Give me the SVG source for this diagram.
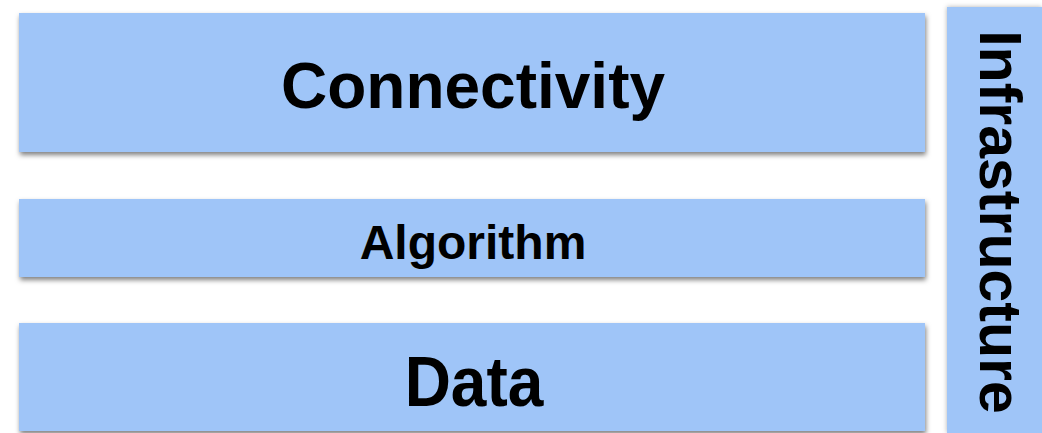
<svg xmlns="http://www.w3.org/2000/svg" width="1042" height="433" viewBox="0 0 1042 433">
  <defs>
    <filter id="shadow" x="-5%" y="-20%" width="110%" height="140%">
      <feDropShadow dx="1" dy="3" stdDeviation="2.5" flood-color="#000" flood-opacity="0.5"/>
    </filter>
    <filter id="shadowV" x="-20%" y="-5%" width="140%" height="110%">
      <feDropShadow dx="0" dy="0" stdDeviation="2.5" flood-color="#000" flood-opacity="0.3"/>
    </filter>
  </defs>
  <style>
    .box { fill: #9fc5f8; }
    .lbl { font-family: "Liberation Sans", Arial, Helvetica, sans-serif; font-weight: bold; fill: #000; text-anchor: middle; }
  </style>
  <rect width="1042" height="433" fill="#ffffff"/>
  <g id="connectors"></g>
  <g id="connectivity">
    <rect class="box" x="19" y="13" width="906" height="139" filter="url(#shadow)"/>
    <text class="lbl" x="473" y="108" font-size="64">Connectivity</text>
  </g>
  <g id="algorithm">
    <rect class="box" x="19" y="199" width="906" height="78" filter="url(#shadow)"/>
    <text class="lbl" x="473" y="259" font-size="48">Algorithm</text>
  </g>
  <g id="data">
    <rect class="box" x="19" y="323" width="906" height="108" filter="url(#shadow)"/>
    <text class="lbl" x="474" y="406" font-size="64" transform="translate(474 406) scale(1 1.1) translate(-474 -406)">Data</text>
  </g>
  <g id="infrastructure">
    <rect class="box" x="947" y="7" width="95" height="426" filter="url(#shadowV)"/>
    <text class="lbl" font-size="59" transform="translate(980 222) rotate(90)" x="0" y="0">Infrastructure</text>
  </g>
</svg>
